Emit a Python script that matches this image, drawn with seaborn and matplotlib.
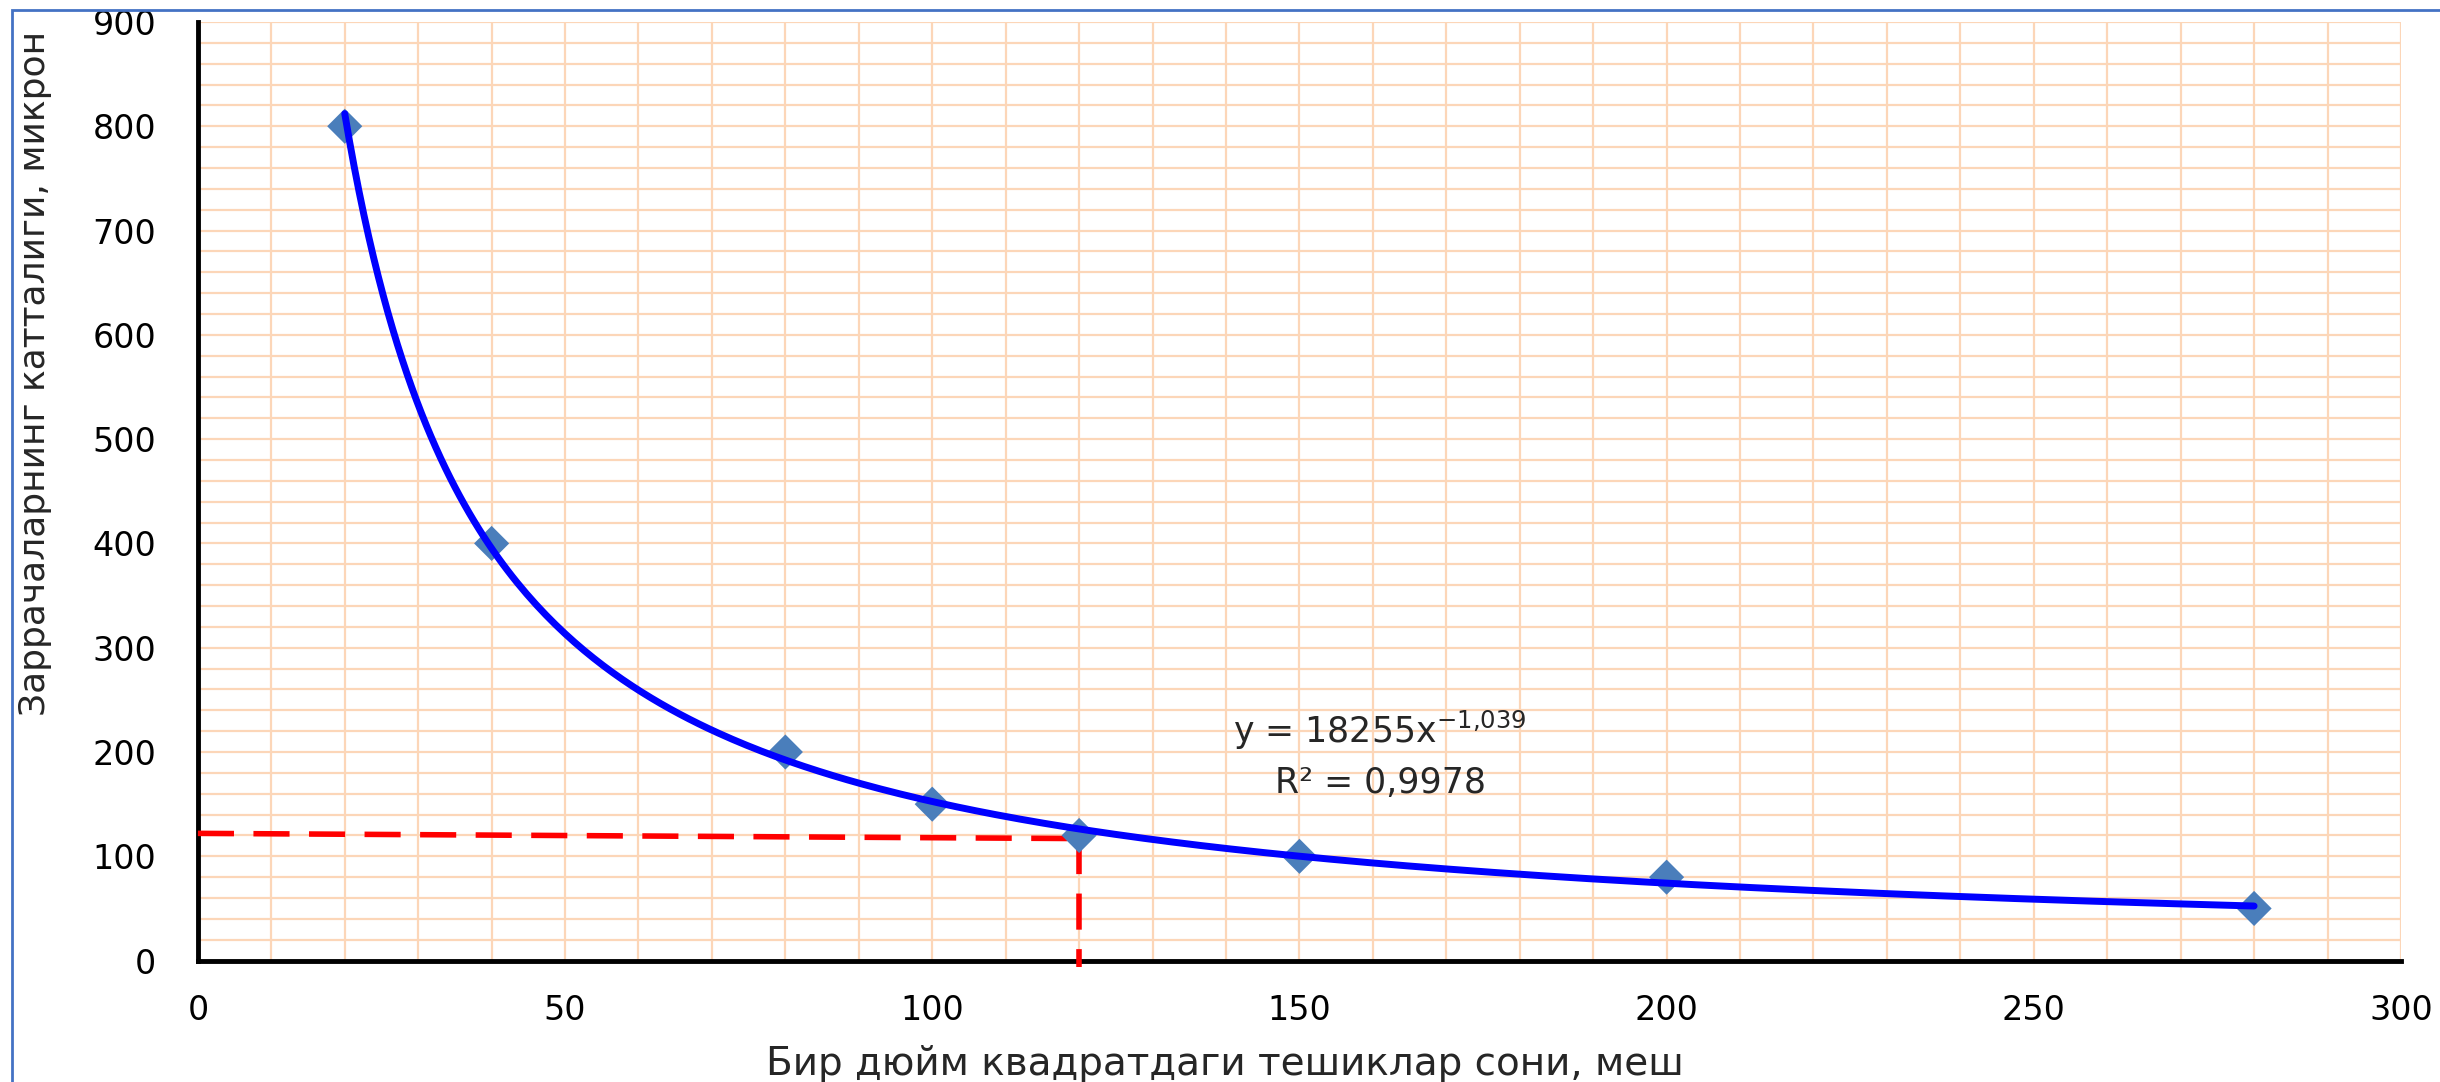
import numpy as np
import pandas as pd
import seaborn as sns
import matplotlib.pyplot as plt
from matplotlib.patches import Rectangle
from matplotlib.ticker import MultipleLocator

# Measured points (mesh count vs particle size)
mesh = [20, 40, 80, 100, 120, 150, 200, 280]
size_micron = [800, 400, 200, 150, 120, 100, 80, 50]

# Power trendline shown on the chart: y = a * x^b
fit_a = 18255
fit_b = -1.039
fit_x_range = [20, 280]

# Red dashed guide lines (read-off at 120 mesh)
guide_h_x = [0, 120]
guide_h_y = [122, 117]
guide_v_x = [120, 120]
guide_v_y = [118, -6]

x_label = 'Бир дюйм квадратдаги тешиклар сони, меш'
y_label = 'Заррачаларнинг катталиги, микрон'
eq_text = 'y = 18255x$^{-1{,}039}$'
r2_text = 'R² = 0,9978'

df = pd.DataFrame({'mesh': mesh, 'size': size_micron})
fit_x = np.linspace(fit_x_range[0], fit_x_range[1], 400)
fit_df = pd.DataFrame({'mesh': fit_x, 'size': fit_a * fit_x ** fit_b})

sns.set_style('white')
plt.rcParams['font.family'] = ['DejaVu Sans']

fig = plt.figure(figsize=(24.4, 10.82), dpi=100)
ax = fig.add_axes([0.0811, 0.1122, 0.9029, 0.8675])

grid_color = '#FCD6B8'
ax.set_xlim(0, 300)
ax.set_ylim(0, 900)
ax.xaxis.set_major_locator(MultipleLocator(50))
ax.xaxis.set_minor_locator(MultipleLocator(10))
ax.yaxis.set_major_locator(MultipleLocator(100))
ax.yaxis.set_minor_locator(MultipleLocator(20))
ax.grid(True, which='both', color=grid_color, linewidth=1.6)
ax.set_axisbelow(True)

# Guide lines
ax.plot(guide_h_x, guide_h_y, color='#FF0000', lw=4, dashes=(6.5, 3.5), clip_on=False, zorder=3)
ax.plot(guide_v_x, guide_v_y, color='#FF0000', lw=4, dashes=(6.5, 3.5), clip_on=False, zorder=3)

# Data and trendline
sns.scatterplot(data=df, x='mesh', y='size', marker='D', s=320, color='#4A7EBB',
                edgecolor='none', ax=ax, zorder=4)
sns.lineplot(data=fit_df, x='mesh', y='size', color='#0000FF', lw=5, ax=ax, zorder=5)

ax.text(161, 221, eq_text, ha='center', va='center', fontsize=25)
ax.text(161, 170, r2_text, ha='center', va='center', fontsize=25)

for side in ['top', 'right']:
    ax.spines[side].set_visible(False)
for side in ['left', 'bottom']:
    ax.spines[side].set_color('black')
    ax.spines[side].set_linewidth(3.5)

ax.tick_params(axis='both', which='major', direction='out', color='black', width=3.5,
               labelsize=24, labelcolor='black')
ax.tick_params(axis='y', which='major', length=12, pad=18)
ax.tick_params(axis='x', which='major', length=8, pad=16)
ax.tick_params(which='minor', length=0)

ax.set_xlabel('')
ax.set_ylabel('')
fig.text(0.502, 0.017, x_label, ha='center', va='center', fontsize=28)
fig.text(0.0145, 0.655, y_label, ha='center', va='center', rotation=90, fontsize=26)

# Outer frame as in the source screenshot
fig.patches.append(Rectangle((12 / 2440, -0.05), 1.1, 1.05 - 10 / 1082, fill=False,
                             edgecolor='#4472C4', lw=2, transform=fig.transFigure,
                             figure=fig))

fig.savefig('out.png', dpi=100)
plt.close(fig)
